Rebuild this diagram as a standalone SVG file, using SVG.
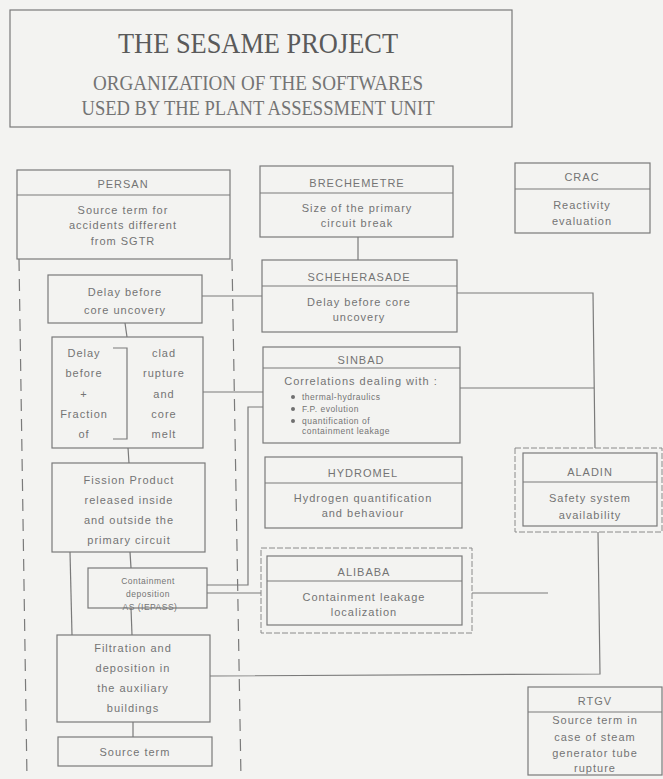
<svg xmlns="http://www.w3.org/2000/svg" width="663" height="779" viewBox="0 0 663 779">
  <style>
    .bg { fill: #f3f3f1; }
    .box { fill: none; stroke: #7a7a7a; stroke-width: 1.2; }
    .dbl { fill: none; stroke: #8a8a8a; stroke-width: 1; stroke-dasharray: 6 2; }
    .div { stroke: #7a7a7a; stroke-width: 1.2; }
    .ln { fill: none; stroke: #7a7a7a; stroke-width: 1.2; }
    .dash { fill: none; stroke: #7a7a7a; stroke-width: 1.2; stroke-dasharray: 12 8; }
    .t { font-family: "Liberation Sans", Arial, sans-serif; font-size: 11px; fill: #747474; text-anchor: middle; letter-spacing: 1px; }
    .s { font-family: "Liberation Sans", Arial, sans-serif; font-size: 8.5px; fill: #747474; letter-spacing: 0.5px; }
    .h { font-family: "Liberation Serif", "Times New Roman", serif; fill: #5a5a5a; text-anchor: middle; }
    .h2 { font-family: "Liberation Serif", "Times New Roman", serif; fill: #747474; text-anchor: middle; }
    .dot { fill: #707070; }
  </style>
  <rect class="bg" x="0" y="0" width="663" height="779"/>

  <!-- heading frame -->
  <g id="title">
    <rect class="box" x="10" y="10" width="502" height="117"/>
    <text class="h" x="258" y="53" font-size="30" textLength="280" lengthAdjust="spacingAndGlyphs">THE SESAME PROJECT</text>
    <text class="h2" x="258" y="90" font-size="21" textLength="330" lengthAdjust="spacingAndGlyphs">ORGANIZATION OF THE SOFTWARES</text>
    <text class="h2" x="258" y="115" font-size="21" textLength="353" lengthAdjust="spacingAndGlyphs">USED BY THE PLANT ASSESSMENT UNIT</text>
  </g>

  <!-- connectors -->
  <g id="connectors">
    <!-- PERSAN column boundary -->
    <line class="dash" x1="19" y1="259" x2="27" y2="779"/>
    <line class="dash" x1="232" y1="259" x2="241" y2="779"/>
    <!-- PERSAN chain -->
    <line class="ln" x1="125" y1="323" x2="127" y2="337"/>
    <line class="ln" x1="128" y1="448" x2="129" y2="463"/>
    <line class="ln" x1="130" y1="552" x2="131" y2="568"/>
    <line class="ln" x1="70" y1="552" x2="72" y2="635"/>
    <line class="ln" x1="131" y1="608" x2="132" y2="635"/>
    <line class="ln" x1="133" y1="722" x2="133" y2="737"/>
    <!-- links towards the centre column -->
    <line class="ln" x1="202" y1="296" x2="262" y2="296"/>
    <line class="ln" x1="203" y1="392" x2="263" y2="392"/>
    <polyline class="ln" points="207,585 248,585 248,407 263,407"/>
    <line class="ln" x1="207" y1="593" x2="261" y2="593"/>
    <!-- BRECHEMETRE to SCHEHERASADE -->
    <line class="ln" x1="358" y1="237" x2="358" y2="260"/>
    <!-- right side bus to ALADIN -->
    <polyline class="ln" points="457,293 593,293 595,448"/>
    <line class="ln" x1="460" y1="388" x2="594" y2="388"/>
    <line class="ln" x1="472" y1="593" x2="548" y2="593"/>
    <polyline class="ln" points="210,676 600,674 598,532"/>
  </g>

  <g id="persan">
    <rect class="box" x="17" y="170" width="213" height="89"/>
    <line class="div" x1="17" y1="195" x2="230" y2="195"/>
    <text class="t" x="123" y="188">PERSAN</text>
    <text class="t" x="123" y="214">Source term for</text>
    <text class="t" x="123" y="229">accidents different</text>
    <text class="t" x="123" y="245">from SGTR</text>
  </g>

  <g id="delay-core">
    <rect class="box" x="48" y="275" width="154" height="48"/>
    <text class="t" x="125" y="296">Delay before</text>
    <text class="t" x="125" y="314">core uncovery</text>
  </g>

  <g id="delay-fraction">
    <rect class="box" x="52" y="337" width="151" height="111"/>
    <polyline class="ln" points="113,348 127,348 127,439 113,439"/>
    <text class="t" x="84" y="357">Delay</text>
    <text class="t" x="84" y="377">before</text>
    <text class="t" x="84" y="398">+</text>
    <text class="t" x="84" y="418">Fraction</text>
    <text class="t" x="84" y="438">of</text>
    <text class="t" x="164" y="357">clad</text>
    <text class="t" x="164" y="377">rupture</text>
    <text class="t" x="164" y="398">and</text>
    <text class="t" x="164" y="418">core</text>
    <text class="t" x="164" y="438">melt</text>
  </g>

  <g id="fission-product">
    <rect class="box" x="52" y="463" width="153" height="89"/>
    <text class="t" x="129" y="484">Fission Product</text>
    <text class="t" x="129" y="504">released inside</text>
    <text class="t" x="129" y="524">and outside the</text>
    <text class="t" x="129" y="544">primary circuit</text>
  </g>

  <g id="containment-deposition">
    <rect class="box" x="88" y="568" width="119" height="40"/>
    <text class="s" x="148" y="584" text-anchor="middle">Containment</text>
    <text class="s" x="148" y="597" text-anchor="middle">deposition</text>
    <text class="s" x="150" y="610" text-anchor="middle">AS (IEPASS)</text>
  </g>

  <g id="filtration">
    <rect class="box" x="57" y="635" width="153" height="87"/>
    <text class="t" x="133" y="652">Filtration and</text>
    <text class="t" x="133" y="672">deposition in</text>
    <text class="t" x="133" y="692">the auxiliary</text>
    <text class="t" x="133" y="712">buildings</text>
  </g>

  <g id="source-term">
    <rect class="box" x="58" y="737" width="154" height="29"/>
    <text class="t" x="135" y="756">Source term</text>
  </g>

  <g id="brechemetre">
    <rect class="box" x="260" y="166" width="193" height="71"/>
    <line class="div" x1="260" y1="193" x2="453" y2="193"/>
    <text class="t" x="357" y="187">BRECHEMETRE</text>
    <text class="t" x="357" y="212">Size of the primary</text>
    <text class="t" x="357" y="227">circuit break</text>
  </g>

  <g id="scheherasade">
    <rect class="box" x="262" y="260" width="195" height="72"/>
    <line class="div" x1="262" y1="286" x2="457" y2="286"/>
    <text class="t" x="359" y="281">SCHEHERASADE</text>
    <text class="t" x="359" y="306">Delay before core</text>
    <text class="t" x="359" y="321">uncovery</text>
  </g>

  <g id="sinbad">
    <rect class="box" x="263" y="347" width="197" height="96"/>
    <line class="div" x1="263" y1="368" x2="460" y2="368"/>
    <text class="t" x="361" y="364">SINBAD</text>
    <text class="t" x="361" y="385" font-size="12">Correlations dealing with :</text>
    <circle class="dot" cx="293" cy="397" r="2"/>
    <circle class="dot" cx="293" cy="409" r="2"/>
    <circle class="dot" cx="293" cy="421" r="2"/>
    <text class="s" x="302" y="400">thermal-hydraulics</text>
    <text class="s" x="302" y="412">F.P. evolution</text>
    <text class="s" x="302" y="424">quantification of</text>
    <text class="s" x="302" y="434">containment leakage</text>
  </g>

  <g id="hydromel">
    <rect class="box" x="265" y="457" width="197" height="71"/>
    <line class="div" x1="265" y1="483" x2="462" y2="483"/>
    <text class="t" x="363" y="477">HYDROMEL</text>
    <text class="t" x="363" y="502">Hydrogen quantification</text>
    <text class="t" x="363" y="517">and behaviour</text>
  </g>

  <g id="alibaba">
    <rect class="dbl" x="261" y="548" width="211" height="85"/>
    <rect class="box" x="267" y="556" width="195" height="69"/>
    <line class="div" x1="267" y1="581" x2="462" y2="581"/>
    <text class="t" x="364" y="576">ALIBABA</text>
    <text class="t" x="364" y="601">Containment leakage</text>
    <text class="t" x="364" y="616">localization</text>
  </g>

  <g id="crac">
    <rect class="box" x="515" y="163" width="135" height="70"/>
    <line class="div" x1="515" y1="189" x2="650" y2="189"/>
    <text class="t" x="582" y="181">CRAC</text>
    <text class="t" x="582" y="209">Reactivity</text>
    <text class="t" x="582" y="225">evaluation</text>
  </g>

  <g id="aladin">
    <rect class="dbl" x="515" y="448" width="147" height="84"/>
    <rect class="box" x="523" y="453" width="134" height="73"/>
    <line class="div" x1="523" y1="482" x2="657" y2="482"/>
    <text class="t" x="590" y="476">ALADIN</text>
    <text class="t" x="590" y="502">Safety system</text>
    <text class="t" x="590" y="519">availability</text>
  </g>

  <g id="rtgv">
    <rect class="box" x="528" y="687" width="134" height="88"/>
    <line class="div" x1="528" y1="712" x2="662" y2="712"/>
    <text class="t" x="595" y="705">RTGV</text>
    <text class="t" x="595" y="724">Source term in</text>
    <text class="t" x="595" y="741">case of steam</text>
    <text class="t" x="595" y="757">generator tube</text>
    <text class="t" x="595" y="772">rupture</text>
  </g>
</svg>
